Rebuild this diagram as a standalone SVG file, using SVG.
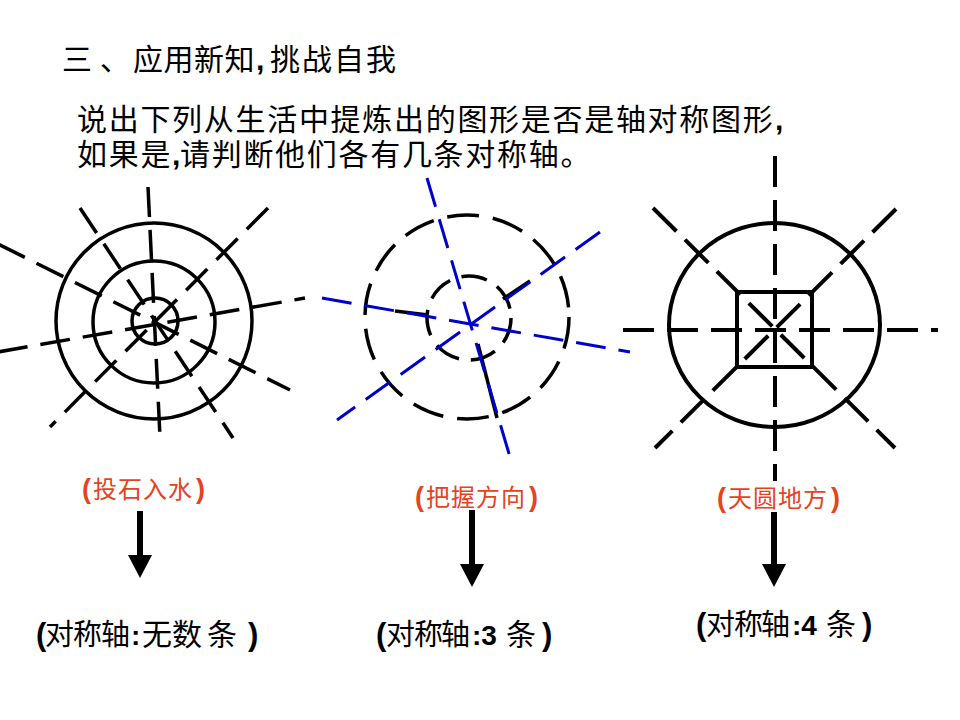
<svg xmlns="http://www.w3.org/2000/svg" width="960" height="720" viewBox="0 0 960 720">
<style>
.t{font-family:"Liberation Sans","Noto Sans CJK SC",sans-serif;fill:#000}
.cjk{font-family:"Noto Sans CJK SC","Liberation Sans",sans-serif;font-weight:normal}
.b{font-family:"Liberation Sans","Noto Sans CJK SC",sans-serif;font-weight:bold}
.red{fill:#E5431D}
.k{fill:none;stroke:#000;stroke-width:3.5}
.k4{fill:none;stroke:#000;stroke-width:4}
.bl{fill:none;stroke:#0000CC;stroke-width:3}
.d1{stroke-dasharray:30 13}
.d3{stroke-dasharray:31 13}
.dd{stroke-dasharray:33 12}
.arr{stroke:#000;stroke-width:6;fill:none}
</style>
<defs>
<marker id="ah" markerUnits="userSpaceOnUse" markerWidth="24" markerHeight="24" viewBox="0 0 24 24" refX="0" refY="12" orient="auto">
<path d="M0,0 L23,12 L0,24 Z" fill="#000"/>
</marker>
</defs>

<g id="title">
<text class="t" y="70" font-size="30"><tspan class="cjk" x="62">三</tspan><tspan class="cjk" x="100">、</tspan><tspan class="cjk" x="133" letter-spacing="0.5">应用新知</tspan><tspan class="b" x="256">,</tspan><tspan class="cjk" x="270" letter-spacing="2">挑战自我</tspan></text>
<text class="t" y="130" font-size="30"><tspan class="cjk" x="77" letter-spacing="1.7">说出下列从生活中提炼出的图形是否是轴对称图形</tspan><tspan class="b" x="775">,</tspan></text>
<text class="t" y="165" font-size="30"><tspan class="cjk" x="77" letter-spacing="1.7">如果是</tspan><tspan class="b" x="172">,</tspan><tspan class="cjk" x="180" letter-spacing="1.7">请判断他们各有几条对称轴。</tspan></text>
</g>

<g id="fig1" class="k">
<circle cx="154" cy="321" r="98"/>
<circle cx="154" cy="322" r="61"/>
<circle cx="155" cy="321" r="23"/>
<g class="d1">
<line x1="148" y1="187" x2="160" y2="437"/>
<line x1="268" y1="208" x2="50" y2="427"/>
<line x1="-2" y1="244" x2="290" y2="390"/>
<line x1="-2" y1="352" x2="305" y2="298"/>
<line x1="80" y1="208" x2="233" y2="438"/>
</g>
</g>

<g id="fig2">
<circle class="k" cx="467" cy="317" r="102" stroke-dasharray="32 14"/>
<circle class="k" cx="469" cy="318" r="42" stroke-dasharray="26 12"/>
<line class="k" x1="395" y1="311" x2="428" y2="315"/>
<line class="k" x1="503" y1="299" x2="530" y2="281"/>
<line class="k" x1="478" y1="344" x2="497" y2="418"/>
<g class="bl d1">
<line x1="427" y1="178" x2="510" y2="457"/>
<line x1="322" y1="298" x2="630" y2="352"/>
<line x1="600" y1="232" x2="337" y2="420"/>
</g>
</g>

<g id="fig3">
<ellipse class="k4" cx="774.5" cy="325" rx="105.5" ry="102"/>
<rect class="k4" x="737" y="292" width="75" height="75"/>
<line class="k4 d3" x1="623" y1="330" x2="938" y2="330"/>
<line class="k4 d3" x1="775" y1="156" x2="775" y2="481"/>
<line class="k4 dd" x1="653" y1="208" x2="895" y2="448"/>
<line class="k4 dd" x1="896" y1="209" x2="655" y2="448"/>
</g>

<g id="label-a">
<text class="t red" y="498"><tspan class="b" x="82" font-size="27">(</tspan><tspan class="cjk" x="93" font-size="24" letter-spacing="1">投石入水</tspan><tspan class="b" x="196" font-size="27">)</tspan></text>
</g>
<g id="label-b">
<text class="t red" y="506"><tspan class="b" x="415" font-size="27">(</tspan><tspan class="cjk" x="426" font-size="24" letter-spacing="1">把握方向</tspan><tspan class="b" x="529" font-size="27">)</tspan></text>
</g>
<g id="label-c">
<text class="t red" y="507"><tspan class="b" x="717" font-size="27">(</tspan><tspan class="cjk" x="728" font-size="24" letter-spacing="1">天圆地方</tspan><tspan class="b" x="831" font-size="27">)</tspan></text>
</g>

<g id="result-a">
<text class="t" y="645"><tspan class="b" x="36" font-size="31">(</tspan><tspan class="cjk" x="45 73 101" font-size="29">对称轴</tspan><tspan class="b" x="131" font-size="28">:</tspan><tspan class="cjk" x="142 172 207" font-size="30">无数条</tspan><tspan class="b" x="248" font-size="31">)</tspan></text>
</g>
<g id="result-b">
<text class="t" y="645"><tspan class="b" x="376" font-size="31">(</tspan><tspan class="cjk" x="386 414 441" font-size="29">对称轴</tspan><tspan class="b" x="472" font-size="28">:3</tspan><tspan class="cjk" x="506" font-size="30">条</tspan><tspan class="b" x="542" font-size="31">)</tspan></text>
</g>
<g id="result-c">
<text class="t" y="635"><tspan class="b" x="696" font-size="31">(</tspan><tspan class="cjk" x="706 734 761" font-size="29">对称轴</tspan><tspan class="b" x="792" font-size="28">:4</tspan><tspan class="cjk" x="826" font-size="30">条</tspan><tspan class="b" x="862" font-size="31">)</tspan></text>
</g>

<g id="connectors">
<line class="arr" x1="140" y1="511" x2="140" y2="555" marker-end="url(#ah)"/>
<line class="arr" x1="472" y1="510" x2="472" y2="564" marker-end="url(#ah)"/>
<line class="arr" x1="774" y1="512" x2="774" y2="564" marker-end="url(#ah)"/>
</g>
</svg>
